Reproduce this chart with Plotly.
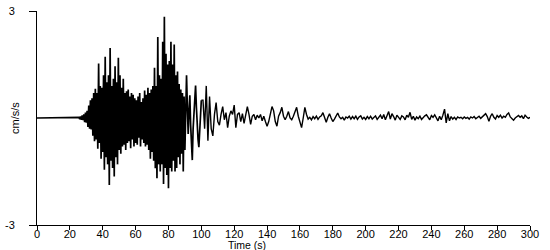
import numpy as np
import plotly.graph_objects as go

# ---- data (acceleration in cm/s/s) ----
# quiet pre-event part
t_quiet = [0.0, 25.0]
a_quiet = [0.0, 0.0]

# strong-motion part: samples every 0.5 s from 25.5 s to 100 s
t_strong_start, t_strong_step = 25.5, 0.5
a_strong = [
    0.02, -0.03, 0.04, -0.05, 0.07, -0.06, 0.10, -0.12, 0.15, -0.13,
    0.20, -0.25, 0.35, -0.30, 0.50, -0.32, 0.55, -0.50, 0.70, -0.65,
    0.82, -0.60, 0.70, -0.86, 1.53, -0.70, 0.90, -1.14, 0.85, -0.95,
    1.20, -1.45, 1.72, -1.10, 1.00, -1.30, 1.20, -1.88, 1.96, -1.20,
    0.90, -1.40, 1.10, -1.64, 1.45, -1.10, 1.00, -1.30, 1.69, -0.90,
    1.20, -1.00, 0.85, -0.80, 1.10, -0.75, 0.70, -0.90, 0.75, -0.70,
    0.80, -0.65, 0.60, -0.85, 0.70, -0.60, 0.65, -0.80, 0.55, -0.70,
    0.50, -0.75, 0.60, -0.55, 0.70, -0.80, 0.45, -0.60, 0.55, -0.70,
    0.77, -0.80, 0.65, -0.75, 0.85, -0.90, 0.70, -1.14, 0.80, -0.95,
    0.90, -1.20, 1.41, -1.41, 0.90, -1.69, 2.27, -1.30, 1.20, -1.50,
    1.10, -1.30, 2.14, -1.85, 2.84, -1.40, 1.80, -1.60, 1.50, -1.97,
    1.60, -1.40, 2.14, -1.50, 1.50, -1.20, 2.06, -1.50, 1.20, -1.40,
    1.30, -1.10, 0.95, -1.30, 0.80, -1.00, 0.70, -1.50, 0.60, -0.90,
    0.40, 1.20, 0.30, -0.45, 0.20, 0.64, -0.20, -0.90, -1.18, -0.30,
    0.20, 0.45, 0.91, 0.30, -0.40, -0.60, -0.82, -0.30, 0.30, 0.50,
]

# coda: samples every 1 s from 101 s to 300 s
t_coda_start, t_coda_step = 101.0, 1.0
a_coda = [
    0.50, -0.30, 0.90, -0.64, 0.60, -0.30, -0.50, 0.10, 0.43, -0.10,
    -0.20, 0.10, 0.32, -0.05, 0.15, -0.27, 0.05, 0.20, 0.10, 0.36,
    -0.27, 0.10, 0.15, -0.10, 0.12, -0.15, 0.05, 0.32, 0.10, -0.18,
    0.05, 0.10, -0.05, 0.08, 0.00, 0.10, -0.08, 0.05, -0.10, -0.23,
    -0.10, 0.15, 0.32, 0.20, -0.10, -0.23, 0.05, 0.15, 0.30, 0.05,
    -0.05, 0.05, 0.18, 0.00, -0.05, 0.05, 0.18, 0.30, 0.05, -0.15,
    -0.27, 0.00, 0.30, 0.10, -0.03, 0.02, -0.05, 0.04, -0.02, 0.05,
    -0.04, 0.03, 0.06, 0.15, 0.00, -0.12, 0.02, 0.12, 0.00, -0.10,
    -0.03, 0.05, 0.14, 0.03, -0.02, 0.02, -0.06, 0.03, 0.00, 0.05,
    -0.03, 0.04, -0.02, 0.05, -0.04, 0.03, 0.06, -0.03, 0.02, -0.04,
    0.04, -0.02, 0.05, -0.03, 0.02, 0.06, -0.04, 0.03, 0.08, -0.02,
    0.10, -0.05, 0.05, 0.18, -0.03, 0.12, 0.04, -0.06, 0.08, 0.02,
    -0.04, 0.06, 0.03, -0.05, 0.08, 0.02, 0.16, -0.04, 0.05, -0.06,
    0.03, -0.02, 0.05, -0.04, 0.02, 0.06, 0.09, 0.03, -0.05, 0.07,
    0.02, 0.09, -0.02, -0.08, 0.05, -0.05, 0.08, 0.25, -0.14, 0.12,
    -0.08, 0.04, -0.03, 0.02, -0.04, 0.03, 0.00, 0.02, -0.02, 0.03,
    -0.01, 0.02, -0.03, 0.03, 0.00, 0.04, -0.02, 0.02, 0.05, -0.01,
    0.03, 0.06, 0.12, 0.04, -0.09, 0.05, 0.12, 0.02, -0.03, 0.07,
    0.02, 0.08, 0.00, 0.05, 0.02, 0.10, 0.14, 0.03, -0.02, -0.06,
    0.00, 0.04, 0.07, 0.02, 0.06, -0.02, 0.08, 0.03, -0.01, 0.02,
]

x_ticks = list(range(0, 301, 20))
x_tick_labels = [str(v) for v in x_ticks]
y_ticks = [-3, 3]
y_tick_labels = ["-3", "3"]
x_title = "Time (s)"
y_title = "cm/s/s"

# ---- assemble series ----
t_strong = t_strong_start + t_strong_step * np.arange(len(a_strong))
t_coda = t_coda_start + t_coda_step * np.arange(len(a_coda))

# quiet + strong part (drawn a bit heavier, as the dense record looks solid)
t_main = np.concatenate([t_quiet, t_strong])
a_main = np.concatenate([a_quiet, a_strong])
# coda joined to the last strong-motion sample
t_tail = np.concatenate([t_strong[-1:], t_coda])
a_tail = np.concatenate([a_strong[-1:], a_coda])

font_family = "Liberation Sans, Arial, sans-serif"

fig = go.Figure()
fig.add_trace(go.Scatter(
    x=t_main, y=a_main, mode="lines",
    line=dict(color="black", width=1.7),
    hoverinfo="skip", showlegend=False,
))
fig.add_trace(go.Scatter(
    x=t_tail, y=a_tail, mode="lines",
    line=dict(color="black", width=1.4),
    hoverinfo="skip", showlegend=False,
))

fig.update_layout(
    width=550, height=250,
    margin=dict(l=35, r=20, t=5, b=25),
    paper_bgcolor="white", plot_bgcolor="white",
    font=dict(family=font_family, size=11, color="black"),
    showlegend=False,
)
fig.update_xaxes(
    range=[0, 300], tickmode="array", tickvals=x_ticks, ticktext=x_tick_labels,
    ticks="outside", ticklen=4, tickcolor="black", tickwidth=1,
    ticklabelstandoff=-5,
    showline=True, linecolor="black", linewidth=1,
    showgrid=False, zeroline=False,
)
fig.update_yaxes(
    range=[-3, 3], tickmode="array", tickvals=y_ticks, ticktext=y_tick_labels,
    ticks="outside", ticklen=7, tickcolor="black", tickwidth=1,
    ticklabelstandoff=12, ticklabeloverflow="allow",
    showline=True, linecolor="black", linewidth=1,
    showgrid=False, zeroline=False,
)
fig.add_annotation(
    text=x_title, xref="paper", yref="paper", x=0.426, y=0,
    xanchor="center", yanchor="top", yshift=-12, showarrow=False,
    font=dict(size=10.5),
)
fig.add_annotation(
    text=y_title, xref="paper", yref="paper", x=0, y=0.5,
    xanchor="center", yanchor="middle", xshift=-22, textangle=-90,
    showarrow=False, font=dict(size=11),
)

fig.write_html("out.html")
